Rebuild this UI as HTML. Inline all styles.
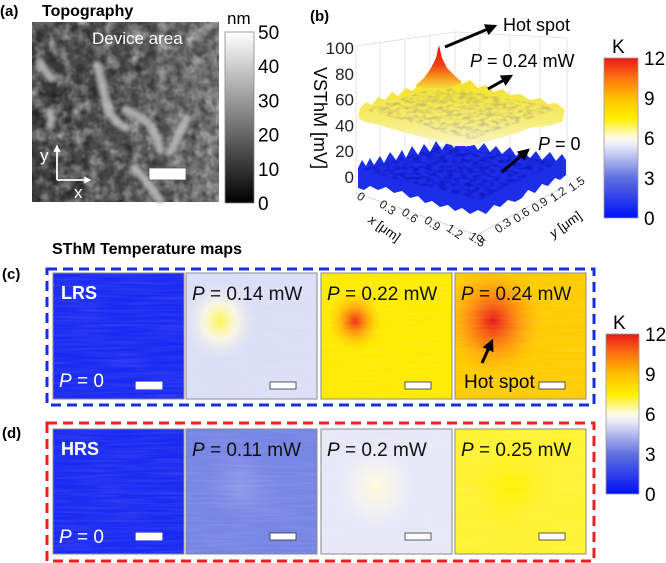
<!DOCTYPE html>
<html><head><meta charset="utf-8"><style>
html,body{margin:0;padding:0;background:#fff;}
svg{display:block;font-family:"Liberation Sans",Arial,sans-serif;}
</style></head><body>
<svg id="fig" width="666" height="563" viewBox="0 0 666 563" xmlns="http://www.w3.org/2000/svg">
<defs>
  <linearGradient id="kbar" x1="0" y1="1" x2="0" y2="0">
    <stop offset="0" stop-color="#0010f8"/><stop offset="0.25" stop-color="#6070e0"/>
    <stop offset="0.45" stop-color="#e6e8f8"/><stop offset="0.5" stop-color="#fffbe8"/>
    <stop offset="0.62" stop-color="#fff000"/><stop offset="0.75" stop-color="#ffc000"/>
    <stop offset="0.88" stop-color="#ff7010"/><stop offset="1" stop-color="#e81818"/>
  </linearGradient>
  <linearGradient id="nmbar" x1="0" y1="1" x2="0" y2="0">
    <stop offset="0" stop-color="#000"/><stop offset="1" stop-color="#fff"/>
  </linearGradient>
  <linearGradient id="topoBase" x1="0" y1="0" x2="1" y2="0">
    <stop offset="0" stop-color="#3e3e3e"/><stop offset="0.6" stop-color="#555"/><stop offset="1" stop-color="#7a7a7a"/>
  </linearGradient>
  <filter id="noise" x="0" y="0" width="100%" height="100%">
    <feTurbulence type="fractalNoise" baseFrequency="0.07" numOctaves="3" seed="4"/>
    <feColorMatrix type="matrix" values="0 0 0 0 0.55 0 0 0 0 0.55 0 0 0 0 0.55 0 0 0 1.6 -0.6"/>
  </filter>
  <filter id="noiseDark" x="0" y="0" width="100%" height="100%">
    <feTurbulence type="fractalNoise" baseFrequency="0.12" numOctaves="2" seed="9"/>
    <feColorMatrix type="matrix" values="0 0 0 0 0 0 0 0 0 0 0 0 0 0 0 0 0 0 1.6 -0.6"/>
  </filter>
  <filter id="noise2" x="0" y="0" width="100%" height="100%">
    <feTurbulence type="fractalNoise" baseFrequency="0.02 0.4" numOctaves="2" seed="7"/>
    <feColorMatrix type="matrix" values="0 0 0 0 1 0 0 0 0 1 0 0 0 0 1 0 0 0 0.6 -0.2"/>
  </filter>
  <filter id="surfNoise" x="0" y="0" width="100%" height="100%">
    <feTurbulence type="fractalNoise" baseFrequency="0.15 0.3" numOctaves="2" seed="3"/>
    <feColorMatrix type="matrix" values="0 0 0 0 0 0 0 0 0 0 0 0 0 0 0.3 0 0 0 1.2 -0.45"/>
    <feComposite in2="SourceGraphic" operator="in"/>
  </filter>
  <filter id="blur2"><feGaussianBlur stdDeviation="1.8"/></filter>
  <linearGradient id="peakG" x1="0" y1="0" x2="0" y2="1">
    <stop offset="0" stop-color="#e81010"/><stop offset="0.45" stop-color="#f04010"/>
    <stop offset="0.75" stop-color="#f8a020"/><stop offset="1" stop-color="#f8e840"/>
  </linearGradient>
  <linearGradient id="yelG" x1="0" y1="0" x2="0" y2="1">
    <stop offset="0" stop-color="#f2e020"/><stop offset="0.6" stop-color="#f6ec70"/><stop offset="1" stop-color="#faf4c8"/>
  </linearGradient>
  <marker id="ah" viewBox="0 0 10 10" refX="8" refY="5" markerWidth="4" markerHeight="4" orient="auto">
    <path d="M0,0 L10,5 L0,10 z" fill="#000"/>
  </marker>
  <marker id="ahw" viewBox="0 0 10 10" refX="8" refY="5" markerWidth="4" markerHeight="4" orient="auto">
    <path d="M0,0 L10,5 L0,10 z" fill="#fff"/>
  </marker>
</defs>

<!-- Panel (a) -->
<text x="0" y="16" font-size="15" font-weight="bold">(a)</text>
<text x="42" y="16" font-size="16" font-weight="bold">Topography</text>
<g>
  <rect x="32" y="22" width="187" height="180" fill="url(#topoBase)"/>
  <rect x="32" y="22" width="187" height="180" filter="url(#noise)"/>
  <rect x="32" y="22" width="187" height="180" filter="url(#noiseDark)" opacity="0.6"/>
  <g stroke="#bcbcbc" stroke-width="8" fill="none" stroke-linecap="round" filter="url(#blur2)" opacity="0.85">
    <path d="M97,65 Q103,90 108,110 Q115,122 126,128"/>
    <path d="M125,110 Q140,114 152,128 Q158,138 160,150"/>
    <path d="M186,118 Q178,138 170,152"/>
    <path d="M40,62 Q46,75 52,78"/>
    <path d="M50,112 Q52,118 50,125"/>
    <path d="M135,168 Q150,185 160,200"/>
  </g>
  <text x="92" y="44" font-size="17" fill="#fff">Device area</text>
  <line x1="57" y1="180" x2="57" y2="146" stroke="#fff" stroke-width="1.8" marker-end="url(#ahw)"/>
  <line x1="57" y1="180" x2="90" y2="180" stroke="#fff" stroke-width="1.8" marker-end="url(#ahw)"/>
  <text x="40" y="161" font-size="17" fill="#fff">y</text>
  <text x="74" y="198" font-size="17" fill="#fff">x</text>
  <rect x="149" y="168" width="37" height="12" fill="#fff" stroke="#555" stroke-width="0.8"/>
</g>
<g>
  <rect x="225" y="32" width="29" height="171" fill="url(#nmbar)" stroke="#888" stroke-width="0.8"/>
  <text x="227" y="24" font-size="17">nm</text>
  <g id="nmTicks" font-size="19"></g>
</g>

<!-- Panel (b) -->
<text x="310" y="21" font-size="15" font-weight="bold">(b)</text>
<g>
  <g stroke="#ddd" stroke-width="0.8" fill="none">
    <line x1="356" y1="46" x2="356" y2="193"/>
    <line x1="356" y1="46" x2="455" y2="32"/>
    <line x1="455" y1="32" x2="567" y2="38"/>
    <line x1="455" y1="32" x2="455" y2="150"/>
    <line x1="567" y1="38" x2="567" y2="187"/>
    <line x1="380" y1="43" x2="380" y2="160"/><line x1="405" y1="39" x2="405" y2="150"/><line x1="430" y1="36" x2="430" y2="145"/>
    <line x1="480" y1="33" x2="480" y2="150"/><line x1="510" y1="35" x2="510" y2="150"/><line x1="540" y1="37" x2="540" y2="160"/>
    <line x1="356" y1="193" x2="477" y2="235" stroke="#ccc"/>
    <line x1="477" y1="235" x2="563" y2="187" stroke="#ccc"/>
  </g>
  <g id="zTicks" font-size="17" fill="#222"></g>
  <text transform="translate(314,118) rotate(90)" text-anchor="middle" font-size="18">VSThM [mV]</text>
  <path d="M358,168 L362,160 L366,166 L370,158 L374,165 L380,156 L384,163 L390,152 L396,160 L402,150 L406,158 L412,146 L418,155 L424,144 L430,152 L436,141 L442,150 L448,140 L454,148 L460,138 L466,147 L472,141 L478,150 L484,143 L490,152 L496,146 L502,154 L510,147 L516,156 L522,150 L530,158 L536,151 L542,160 L550,152 L556,161 L562,154 L566,160 L566,175 L560,180 L555,178 L548,186 L542,184 L535,193 L528,190 L522,198 L515,202 L508,200 L500,207 L494,205 L486,214 L478,210 L470,214 L462,208 L455,211 L448,205 L440,207 L432,201 L425,203 L418,196 L410,198 L402,191 L394,193 L386,187 L378,190 L370,186 L364,190 L358,188 Z" fill="#1d2ee8"/>
  <path d="M360,170 L440,146 L560,162 L480,200 Z" fill="#0a18c0" filter="url(#surfNoise)" opacity="0.9"/>
  <path d="M360,108 L366,102 L372,105 L378,97 L385,100 L392,92 L398,96 L406,88 L412,91 L420,84 L428,86 L435,80 L444,82 L455,78 L462,84 L470,80 L478,88 L486,85 L494,92 L502,89 L510,95 L520,94 L530,100 L540,98 L548,104 L556,103 L565,110 L562,122 L548,126 L530,128 L515,134 L500,138 L485,142 L470,146 L455,146 L440,142 L425,138 L410,134 L395,130 L380,125 L365,122 L358,118 Z" fill="url(#yelG)"/>
  <path d="M365,110 L440,86 L560,108 L470,140 Z" fill="#b0a000" filter="url(#surfNoise)" opacity="0.35"/>
  <path d="M439,45 L442,58 L447,68 L455,76 L462,82 L450,88 L435,90 L415,86 L424,78 L431,68 L436,58 Z" fill="url(#peakG)"/>
  <g id="xTicks3d" font-size="12" fill="#222"></g>
  <g id="yTicks3d" font-size="12" fill="#222"></g>
  <text transform="translate(382,232) rotate(35)" font-size="13" text-anchor="middle"><tspan font-style="italic">x</tspan> [μm]</text>
  <text transform="translate(568,228) rotate(-35)" font-size="13" text-anchor="middle"><tspan font-style="italic">y</tspan> [μm]</text>
  <line x1="445" y1="47" x2="495" y2="26" stroke="#000" stroke-width="3" marker-end="url(#ah)"/>
  <text x="503" y="31" font-size="18">Hot spot</text>
  <text x="470" y="67" font-size="18"><tspan font-style="italic">P</tspan> = 0.24 mW</text>
  <line x1="488" y1="89" x2="511" y2="76" stroke="#000" stroke-width="3" marker-end="url(#ah)"/>
  <text x="538" y="150" font-size="18"><tspan font-style="italic">P</tspan> = 0</text>
  <line x1="502" y1="172" x2="528" y2="150" stroke="#000" stroke-width="3" marker-end="url(#ah)"/>
</g>
<g>
  <rect x="604" y="58" width="34" height="160" fill="url(#kbar)" stroke="#999" stroke-width="0.8"/>
  <text x="612" y="53" font-size="19">K</text>
  <g id="kTicksB" font-size="19"></g>
</g>

<text x="52" y="254" font-size="16" font-weight="bold">SThM Temperature maps</text>
<text x="2" y="279" font-size="15" font-weight="bold">(c)</text>
<text x="2" y="438" font-size="15" font-weight="bold">(d)</text>
<rect x="47" y="269" width="547" height="136" fill="none" stroke="#1a2ee0" stroke-width="3" stroke-dasharray="10,6"/>
<rect x="47" y="423" width="547" height="138" fill="none" stroke="#e82020" stroke-width="3" stroke-dasharray="10,6"/>
<g id="maps"></g>
<g>
  <rect x="606" y="334" width="33" height="160" fill="url(#kbar)" stroke="#999" stroke-width="0.8"/>
  <text x="613" y="329" font-size="19">K</text>
  <g id="kTicksCD" font-size="19"></g>
</g>
</svg>
<script>
const nmTicks = [0, 10, 20, 30, 40, 50];
const kTicks = [0, 3, 6, 9, 12];
const zTicks = [0, 20, 40, 60, 80, 100];
const xTicks3d = ["0", "0.3", "0.6", "0.9", "1.2", "1.5"];
const yTicks3d = ["0", "0.3", "0.6", "0.9", "1.2", "1.5"];
const lrsPowers = ["0", "0.14", "0.22", "0.24"];
const lrsMeanK = [0.8, 5.2, 7.6, 8.6];
const lrsSpotK = [1.0, 6.9, 11.6, 12.0];
const hrsPowers = ["0", "0.11", "0.2", "0.25"];
const hrsMeanK = [0.8, 3.4, 5.4, 7.1];
const hrsSpotK = [1.0, 3.8, 6.1, 7.4];

const NS = "http://www.w3.org/2000/svg";
function mk(tag, attrs, parent) {
  const e = document.createElementNS(NS, tag);
  for (const k in attrs) e.setAttribute(k, attrs[k]);
  parent.appendChild(e); return e;
}
const cmapStops = [[0,[0,16,248]],[3,[96,112,224]],[5.4,[230,232,248]],[6,[255,251,232]],[7.4,[255,240,0]],[9,[255,192,0]],[10.6,[255,112,16]],[12,[232,24,24]]];
function cmap(k) {
  k = Math.max(0, Math.min(12, k));
  for (let i = 1; i < cmapStops.length; i++) {
    if (k <= cmapStops[i][0]) {
      const a = cmapStops[i-1], b = cmapStops[i], t = (k - a[0]) / (b[0] - a[0]);
      return "rgb(" + a[1].map((v, j) => Math.round(v + (b[1][j] - v) * t)).join(",") + ")";
    }
  }
  return "rgb(232,24,24)";
}
const nmG = document.getElementById("nmTicks");
const nmY = v => 203 - (v / 50) * 171;
nmTicks.forEach(v => {
  const t = mk("text", {x: 258, y: nmY(v) + 7}, nmG);
  
  
  t.textContent = v;
});
function kbarTicks(id, x, y0, h) {
  const g = document.getElementById(id);
  kTicks.forEach(v => {
    const t = mk("text", {x: x, y: y0 + h - (v / 12) * h + 7}, g);
    
    
    t.textContent = v;
  });
}
kbarTicks("kTicksB", 644, 58, 160);
kbarTicks("kTicksCD", 645, 334, 160);
const zG = document.getElementById("zTicks");
const zY = v => 177 - v * 1.29;
zTicks.forEach(v => {
  const t = mk("text", {x: 354, y: zY(v) + 6, "text-anchor": "end"}, zG);
  
  
  t.textContent = v;
});
const xG = document.getElementById("xTicks3d");
xTicks3d.forEach((s, i) => {
  const f = i / (xTicks3d.length - 1);
  const x = 356 + f * 112, y = 198 + f * 40;
  const t = mk("text", {transform: "translate(" + x + "," + y + ") rotate(35)"}, xG);
  
  
  t.textContent = s;
});
const yG = document.getElementById("yTicks3d");
yTicks3d.forEach((s, i) => {
  const f = i / (yTicks3d.length - 1);
  const x = 480 + f * 92, y = 244 - f * 52;
  const t = mk("text", {transform: "translate(" + x + "," + y + ") rotate(-35)"}, yG);
  
  
  t.textContent = s;
});
const mapsG = document.getElementById("maps");
const colX = [53, 186, 321, 455];
const mapW = 131;
function drawRow(powers, meanK, spotK, y0, h, label, row) {
  powers.forEach((p, i) => {
    const x0 = colX[i];
    const g = mk("g", {}, mapsG);
    
    
    const cid = "clip" + row + i;
    const cp = mk("clipPath", {id: cid}, g);
    mk("rect", {x: x0, y: y0, width: mapW, height: h}, cp);
    const inner = mk("g", {"clip-path": "url(#" + cid + ")"}, g);
    mk("rect", {x: x0, y: y0, width: mapW, height: h, fill: cmap(meanK[i])}, inner);
    const gid = "rg" + row + i;
    const rg = mk("radialGradient", {id: gid}, g);
    mk("stop", {offset: "0", "stop-color": cmap(spotK[i])}, rg);
    mk("stop", {offset: "0.45", "stop-color": cmap((spotK[i] + meanK[i]) / 2), "stop-opacity": "0.8"}, rg);
    mk("stop", {offset: "1", "stop-color": cmap(meanK[i]), "stop-opacity": "0"}, rg);
    const r = row === "lrs" ? (i === 3 ? 55 : (i === 2 ? 30 : 38)) : 45;
    mk("ellipse", {cx: x0 + (row === "lrs" ? 34 + (i === 3 ? 4 : 0) : 55), cy: y0 + (row === "lrs" ? 48 : 58), rx: r, ry: r * 1.1, fill: "url(#" + gid + ")"}, inner);
    mk("rect", {x: x0, y: y0, width: mapW, height: h, filter: "url(#noise2)", opacity: "0.3"}, inner);
    mk("rect", {x: x0, y: y0, width: mapW, height: h, fill: "none", stroke: "#8a8a8a", "stroke-width": "1"}, g);
    const dark = meanK[i] < 2;
    const sb = mk("rect", {x: x0 + (dark ? 83 : 84), y: y0 + (row === "lrs" ? 109 : 104), width: 26, height: 7, fill: "#fff", stroke: dark ? "#fff" : "#333", "stroke-width": "0.8"}, g);
    
    
    const t = mk("text", {x: x0 + 6, y: y0 + (i === 0 ? 114 : 27), "font-size": "19", fill: dark ? "#fff" : "#111"}, g);
    
    
    t.innerHTML = '<tspan font-style="italic">P</tspan> = ' + p + (p === "0" ? "" : " mW");
    if (i === 0) {
      const l = mk("text", {x: x0 + 8, y: y0 + 26, "font-size": "18", "font-weight": "bold", fill: "#fff"}, g);
      
      
      l.textContent = label;
    }
  });
}
drawRow(lrsPowers, lrsMeanK, lrsSpotK, 273, 126, "LRS", "lrs");
drawRow(hrsPowers, hrsMeanK, hrsSpotK, 429, 125, "HRS", "hrs");
const ha = mk("line", {x1: 482, y1: 363, x2: 492, y2: 341, stroke: "#000", "stroke-width": "3", "marker-end": "url(#ah)"}, mapsG);


const ht = mk("text", {x: 464, y: 388, "font-size": "19"}, mapsG);


ht.textContent = "Hot spot";
</script>
</body></html>
